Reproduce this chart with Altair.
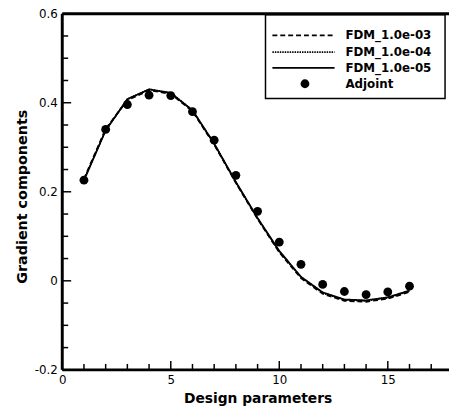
import altair as alt
import pandas as pd

# ---- data ----
design = list(range(1, 17))
fdm_1e3 = [0.229, 0.341, 0.406, 0.428, 0.420, 0.381, 0.306, 0.220, 0.139, 0.064, 0.006, -0.029, -0.045, -0.047, -0.040, -0.025]
fdm_1e4 = [0.226, 0.338, 0.408, 0.430, 0.422, 0.383, 0.308, 0.221, 0.140, 0.066, 0.008, -0.027, -0.043, -0.045, -0.038, -0.023]
fdm_1e5 = [0.226, 0.338, 0.408, 0.430, 0.422, 0.383, 0.308, 0.222, 0.141, 0.067, 0.009, -0.026, -0.042, -0.044, -0.037, -0.022]
adjoint = [0.226, 0.340, 0.396, 0.417, 0.416, 0.380, 0.316, 0.237, 0.156, 0.087, 0.037, -0.008, -0.024, -0.031, -0.025, -0.012]
series_names = ["FDM_1.0e-03", "FDM_1.0e-04", "FDM_1.0e-05"]
adjoint_name = "Adjoint"

x_major = [0, 5, 10, 15]
x_minor = [1, 2, 3, 4, 6, 7, 8, 9, 11, 12, 13, 14, 16, 17]
y_major = [-0.2, 0.0, 0.2, 0.4, 0.6]
y_minor = [-0.15, -0.1, -0.05, 0.05, 0.1, 0.15, 0.25, 0.3, 0.35, 0.45, 0.5, 0.55]

# ---- layout ----
W, H = 392, 361
FONT = "DejaVu Sans"
xs = alt.Scale(domain=[0, 17.82], nice=False, zero=False)
ys = alt.Scale(domain=[-0.2, 0.6], nice=False, zero=False)

rows = []
for name, vals in zip(series_names, [fdm_1e3, fdm_1e4, fdm_1e5]):
    for x, v in zip(design, vals):
        rows.append({"x": x, "value": v, "series": name})
lines_df = pd.DataFrame(rows)
adj_df = pd.DataFrame({"x": design, "value": adjoint})
dashes = [[5, 3], [1.5, 1], [1, 0]]

x_axis = alt.Axis(values=x_major, ticks=False, domain=False, grid=False,
                  labelFont=FONT, labelFontSize=12, labelColor="black",
                  labelPadding=5, labelFlush=False, labelOverlap=False,
                  title="Design parameters", titleFont=FONT, titleFontSize=14,
                  titleFontWeight="bold", titleColor="black",
                  titleX=198, titleY=33, titleBaseline="alphabetic", titleAlign="center")
y_axis = alt.Axis(values=y_major, ticks=False, domain=False, grid=False,
                  labelFont=FONT, labelFontSize=12, labelColor="black",
                  labelPadding=5, labelFlush=False, labelOverlap=False,
                  labelExpr="datum.value == 0 ? '0' : replace(format(datum.value, '.1f'), '\u2212', '-')",
                  title="Gradient components", titleFont=FONT, titleFontSize=14.5,
                  titleFontWeight="bold", titleColor="black",
                  titleX=-36, titleY=185, titleAngle=270, titleBaseline="alphabetic",
                  titleAlign="center")

lines = alt.Chart(lines_df).mark_line(color="black", strokeWidth=1.8).encode(
    x=alt.X("x:Q", scale=xs, axis=x_axis),
    y=alt.Y("value:Q", scale=ys, axis=y_axis),
    strokeDash=alt.StrokeDash("series:N", scale=alt.Scale(domain=series_names, range=dashes), legend=None),
    detail="series:N",
)
points = alt.Chart(adj_df).mark_circle(color="black", size=80, opacity=1).encode(
    x=alt.X("x:Q", scale=xs, axis=x_axis),
    y=alt.Y("value:Q", scale=ys, axis=y_axis),
)

def xticks(vals, length):
    return alt.Chart(pd.DataFrame({"t": vals})).mark_rule(color="black", strokeWidth=1.5).encode(
        x=alt.X("t:Q", scale=xs, axis=x_axis), y=alt.value(H), y2=alt.value(H - length))

def yticks(vals, length):
    return alt.Chart(pd.DataFrame({"t": vals})).mark_rule(color="black", strokeWidth=1.5).encode(
        y=alt.Y("t:Q", scale=ys, axis=y_axis), x=alt.value(0), x2=alt.value(length))

one = pd.DataFrame({"a": [0]})

# legend box
box = alt.Chart(one).mark_rect(fill="white", stroke="black", strokeWidth=1.5).encode(
    x=alt.value(206), x2=alt.value(388), y=alt.value(1), y2=alt.value(86))

leg_layers = []
row_y = [22, 39, 55, 71]
for i, name in enumerate(series_names):
    leg_layers.append(alt.Chart(one).mark_rule(color="black", strokeWidth=1.8, strokeDash=dashes[i]).encode(
        x=alt.value(213), x2=alt.value(276), y=alt.value(row_y[i])))
    leg_layers.append(alt.Chart(one).mark_text(align="left", baseline="middle", font=FONT, fontSize=12,
                                               fontWeight="bold", color="black").encode(
        x=alt.value(287), y=alt.value(row_y[i]), text=alt.value(name)))
leg_layers.append(alt.Chart(one).mark_circle(color="black", size=80, opacity=1).encode(
    x=alt.value(246), y=alt.value(row_y[3])))
leg_layers.append(alt.Chart(one).mark_text(align="left", baseline="middle", font=FONT, fontSize=12,
                                           fontWeight="bold", color="black").encode(
    x=alt.value(287), y=alt.value(row_y[3]), text=alt.value(adjoint_name)))

# frame (left, bottom, top)
frame_top = alt.Chart(one).mark_rule(color="black", strokeWidth=3).encode(
    x=alt.value(0), x2=alt.value(W), y=alt.value(0))
frame_bottom = alt.Chart(one).mark_rule(color="black", strokeWidth=3).encode(
    x=alt.value(0), x2=alt.value(W), y=alt.value(H))
frame_left = alt.Chart(one).mark_rule(color="black", strokeWidth=3).encode(
    x=alt.value(0), y=alt.value(0), y2=alt.value(H))

chart = alt.layer(
    lines, points,
    xticks(x_minor, 6), xticks(x_major, 9), yticks(y_minor, 6), yticks(y_major, 9),
    box, *leg_layers,
    frame_top, frame_bottom, frame_left,
).properties(
    width=W, height=H,
    padding={"left": 55, "top": 3, "right": 0, "bottom": 45},
    autosize=alt.AutoSizeParams(type="none"),
    background="white",
).configure_view(stroke=None)

chart.save("out.html", embed_options={"renderer": "svg", "actions": False})
